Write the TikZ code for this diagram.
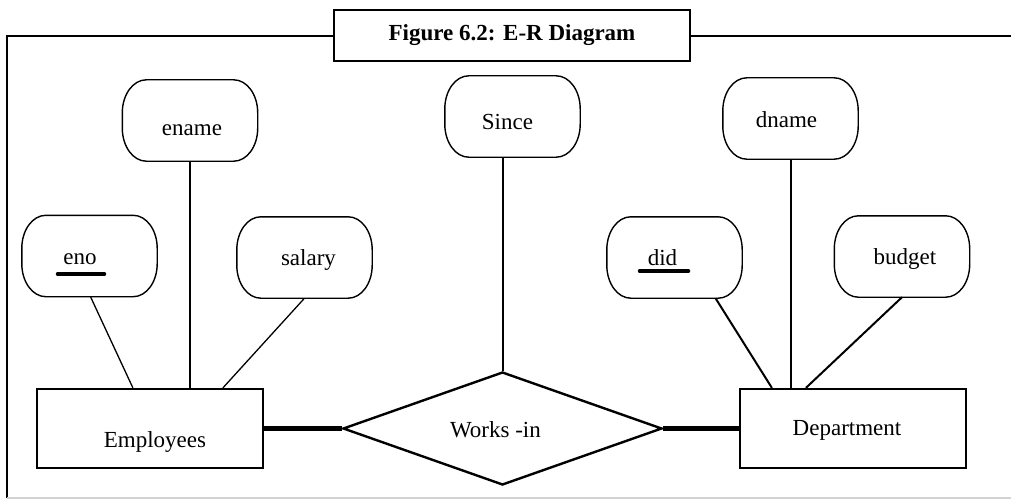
\documentclass[tikz,border=0pt]{standalone}
\usepackage{fontspec}
\setmainfont{Liberation Serif}
\usetikzlibrary{shapes.geometric,calc}
\begin{document}
\begin{tikzpicture}[x=1pt,y=-1pt,
  txt/.style={font=\fontsize{23}{27}\selectfont,inner sep=0pt},
  attr/.style={minimum width=135pt,minimum height=81pt,inner sep=0pt},
  attrline/.style={line width=1.4pt},
  entity/.style={draw,line width=2.2pt,minimum width=226pt,minimum height=79pt,inner sep=0pt},
  rel/.style={draw,diamond,line width=2.4pt,minimum width=319pt,minimum height=113pt,inner sep=0pt},
  thinlink/.style={line width=1.3pt},
  midlink/.style={line width=2pt},
  heavy/.style={line width=4.5pt},
  keyline/.style={line width=3.5pt,line cap=round},
  framel/.style={line width=2.2pt}]
\useasboundingbox (0,0) rectangle (1011,500);
% frame
\node[draw,line width=2.2pt,minimum width=356pt,minimum height=51pt,inner sep=0pt,font=\fontsize{23}{27}\selectfont\bfseries] (title) at (512,35.5) {Figure 6.2: E-R Diagram};
\coordinate (fl) at (7,36);
\coordinate (fb) at (7,498);
\coordinate (fr) at (1011,36);
\draw[framel] (title.west |- fl) -- (fl) -- (fb);
\draw[framel] (title.east |- fr) -- (fr);
\draw[gray!35,line width=1.5pt] (fb) -- (1011,498);
% attributes
\node[attr,label={[txt,xshift=2pt,yshift=-10pt]center:ename}] (ename) at (190,120.5) {};
\node[attr,label={[txt,xshift=-5pt,yshift=-5pt]center:Since}] (since) at (512.5,116.5) {};
\node[attr,label={[txt,xshift=-4pt,yshift=-1pt]center:dname}] (dname) at (790.5,118.5) {};
\node[attr,label={[txt,xshift=-9.5pt,yshift=-3pt]center:eno}] (eno) at (89.5,256) {};
\node[attr,label={[txt,xshift=4pt,yshift=-3pt]center:salary}] (salary) at (304.5,257.5) {};
\node[attr,label={[txt,xshift=-12pt,yshift=0pt]center:did}] (did) at (674.5,257.5) {};
\node[attr,label={[txt,xshift=3pt,yshift=-3pt]center:budget}] (budget) at (902,256.5) {};
\foreach \n in {ename,since,dname,eno,salary,did,budget}{
  \draw[attrline] ($(\n.north west)+(24,0)$) -- ($(\n.north east)+(-24,0)$)
    arc[start angle=90,end angle=0,x radius=24pt,y radius=33pt]
    -- ($(\n.south east)+(0,-33)$)
    arc[start angle=0,end angle=-90,x radius=24pt,y radius=33pt]
    -- ($(\n.south west)+(24,0)$)
    arc[start angle=-90,end angle=-180,x radius=24pt,y radius=33pt]
    -- ($(\n.north west)+(0,33)$)
    arc[start angle=180,end angle=90,x radius=24pt,y radius=33pt] -- cycle;
}
% key underlines
\draw[keyline] ($(eno.center)+(-32,18)$) -- ($(eno.center)+(15,18)$);
\draw[keyline] ($(did.center)+(-35,13.5)$) -- ($(did.center)+(14,13.5)$);
% entities and relationship
\node[entity,label={[txt,yshift=-13pt,xshift=5pt]center:Employees}] (emp) at (150,428.5) {};
\node[entity,label={[txt,yshift=-2pt,xshift=-6pt]center:Department}] (dept) at (853,428.5) {};
\node[rel,label={[txt,xshift=-7pt,yshift=-1pt]center:Works -in}] (works) at (502.5,428.5) {};
% attribute links
\draw[thinlink] (eno.south)++(1,0) -- ($(emp.north west)+(97,0)$);
\draw[thinlink] (ename.south) -- (ename.south |- emp.north);
\draw[thinlink] (salary.south) -- ($(emp.north west)+(187,0)$);
\draw[midlink] (since.south -| works.north) -- (works.north);
\draw[midlink] ($(did.south)+(41,0)$) -- ($(dept.north west)+(33,0)$);
\draw[midlink] (dname.south) -- (dname.south |- dept.north);
\draw[midlink] (budget.south) -- ($(dept.north west)+(67,0)$);
% relationship links
\draw[heavy] (emp.east) -- (works.west);
\draw[heavy] (works.east) -- (dept.west);
\end{tikzpicture}
\end{document}
